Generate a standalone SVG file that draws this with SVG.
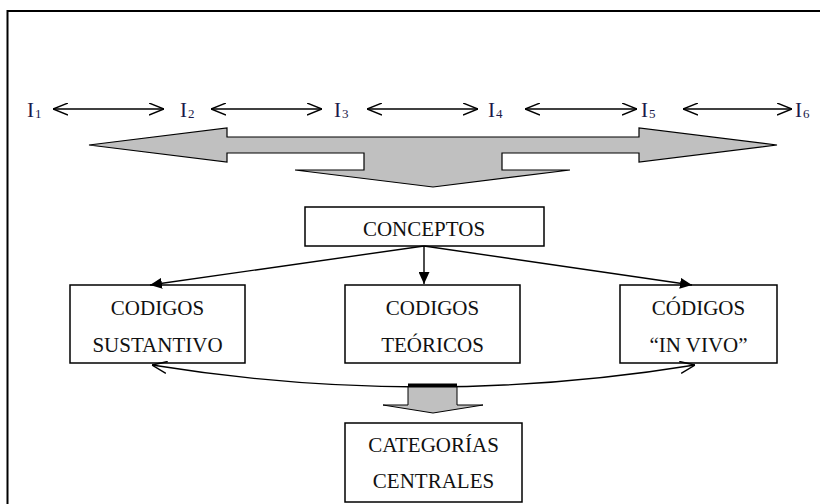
<svg xmlns="http://www.w3.org/2000/svg" width="820" height="504" viewBox="0 0 820 504">
<style>
  .box { fill: #ffffff; stroke: #000000; stroke-width: 1.5; }
  .t { font-family: "Liberation Serif", "Times New Roman", serif; font-size: 21px; fill: #111111; text-anchor: middle; }
  .lbl { font-family: "Liberation Serif", "Times New Roman", serif; font-size: 21px; fill: #1a1a4a; }
  .sub { font-size: 13px; }
  .ln { fill: none; stroke: #000000; stroke-width: 1.4; }
  .frame { fill: none; stroke: #000000; stroke-width: 2; }
</style>
<defs>
  <marker id="open" viewBox="0 0 15 13" refX="15" refY="6.5" markerWidth="15" markerHeight="13" markerUnits="userSpaceOnUse" orient="auto-start-reverse">
    <path d="M0,0.5 L15,6.5 L0,12.5" fill="none" stroke="#000" stroke-width="1.4"/>
  </marker>
  <marker id="solid" viewBox="0 0 12 11" refX="12" refY="5.5" markerWidth="12" markerHeight="11" markerUnits="userSpaceOnUse" orient="auto">
    <path d="M0,0 L12,5.5 L0,11 Z" fill="#000"/>
  </marker>
</defs>

<!-- frame -->
<path class="frame" d="M7.5,504 L7.5,11 L820,11"/>

<!-- top labels -->
<g id="labels">
  <text class="lbl" x="27" y="117">I<tspan class="sub" dx="1" dy="1">1</tspan></text>
  <text class="lbl" x="180" y="117">I<tspan class="sub" dx="1" dy="1">2</tspan></text>
  <text class="lbl" x="334" y="117">I<tspan class="sub" dx="1" dy="1">3</tspan></text>
  <text class="lbl" x="488" y="117">I<tspan class="sub" dx="1" dy="1">4</tspan></text>
  <text class="lbl" x="641" y="117">I<tspan class="sub" dx="1" dy="1">5</tspan></text>
  <text class="lbl" x="795" y="117">I<tspan class="sub" dx="1" dy="1">6</tspan></text>
</g>

<!-- big gray arrow -->
<g id="gray-arrow">
  <polygon points="89,145 227,128 227,137 639,137 639,128 777,145 639,162 639,153 502,153 502,170 570,170 433,187 295,170 364,170 364,153 227,153 227,162" fill="#c0c0c0" stroke="#000" stroke-width="1.2" stroke-linejoin="miter"/>
</g>

<!-- nodes -->
<g id="conceptos">
  <rect class="box" x="305" y="207" width="239" height="39"/>
  <text class="t" x="424" y="236">CONCEPTOS</text>
</g>
<g id="codigos-sustantivo">
  <rect class="box" x="70" y="285" width="175" height="78"/>
  <text class="t" x="157.5" y="315">CODIGOS</text>
  <text class="t" x="157.5" y="352">SUSTANTIVO</text>
</g>
<g id="codigos-teoricos">
  <rect class="box" x="345" y="285" width="175" height="78"/>
  <text class="t" x="432.5" y="315">CODIGOS</text>
  <text class="t" x="432.5" y="352">TEÓRICOS</text>
</g>
<g id="codigos-in-vivo">
  <rect class="box" x="620" y="285" width="157" height="78"/>
  <text class="t" x="698.5" y="315">CÓDIGOS</text>
  <text class="t" x="698.5" y="352">“IN VIVO”</text>
</g>
<g id="categorias-centrales">
  <rect class="box" x="345" y="423" width="177" height="79"/>
  <text class="t" x="433.5" y="452">CATEGORÍAS</text>
  <text class="t" x="433.5" y="488">CENTRALES</text>
</g>

<!-- connectors -->
<g id="connectors">
  <line class="ln" x1="53" y1="109" x2="164" y2="109" marker-start="url(#open)" marker-end="url(#open)"/>
  <line class="ln" x1="211" y1="109" x2="322" y2="109" marker-start="url(#open)" marker-end="url(#open)"/>
  <line class="ln" x1="367" y1="109" x2="478" y2="109" marker-start="url(#open)" marker-end="url(#open)"/>
  <line class="ln" x1="525" y1="109" x2="637" y2="109" marker-start="url(#open)" marker-end="url(#open)"/>
  <line class="ln" x1="683" y1="109" x2="792" y2="109" marker-start="url(#open)" marker-end="url(#open)"/>

  <line class="ln" x1="424" y1="246" x2="150" y2="285" marker-end="url(#solid)"/>
  <line class="ln" x1="424" y1="246" x2="424" y2="284" marker-end="url(#solid)"/>
  <line class="ln" x1="424" y1="246" x2="692" y2="285" marker-end="url(#solid)"/>

  <path class="ln" d="M152,365 Q424,409 695,365" marker-start="url(#open)" marker-end="url(#open)"/>

  <!-- small gray down arrow -->
  <polygon points="408,386 457,386 457,405 483,405 433,413 383,405 408,405" fill="#c0c0c0" stroke="#000" stroke-width="1"/>
  <rect x="408" y="383.5" width="49" height="4" fill="#000"/>
</g>
</svg>
